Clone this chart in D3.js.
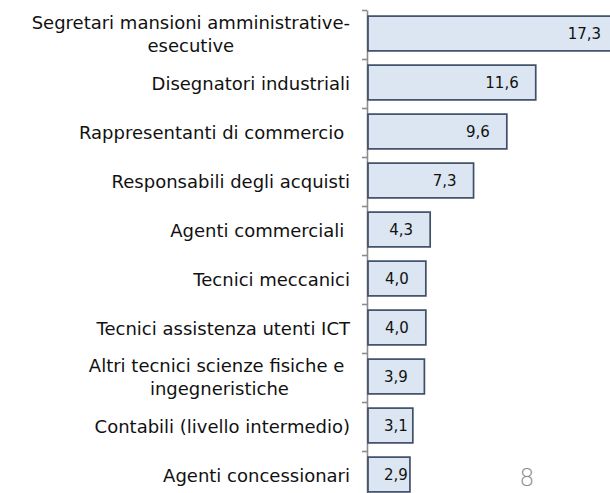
<!DOCTYPE html>
<html>
<head>
<meta charset="utf-8">
<script src="https://cdn.jsdelivr.net/npm/d3@7"></script>
<style>
  html, body { margin: 0; padding: 0; background: #ffffff; }
  svg { display: block; }
  text { font-family: "Century Gothic", "DejaVu Sans", sans-serif; white-space: pre; }
</style>
</head>
<body>
<svg id="chart" width="610" height="493"></svg>
<script>
const categories = [
  "Segretari mansioni amministrative-\nesecutive",
  "Disegnatori industriali",
  "Rappresentanti di commercio ",
  "Responsabili degli acquisti",
  "Agenti commerciali ",
  "Tecnici meccanici",
  "Tecnici assistenza utenti ICT",
  "Altri tecnici scienze fisiche e \ningegneristiche",
  "Contabili (livello intermedio)",
  "Agenti concessionari"
];
const values = [17.3, 11.6, 9.6, 7.3, 4.3, 4.0, 4.0, 3.9, 3.1, 2.9];
const pageNumber = "8";

const fmt = v => v.toFixed(1).replace(".", ",");

const svg = d3.select("#chart");
const x0 = 368, plotTop = 10, plotBottom = 500;

const x = d3.scaleLinear().domain([0, 20]).range([x0, x0 + 289.2]);
const y = d3.scaleBand().domain(categories).range([plotTop, plotBottom])
  .paddingInner(0.29).paddingOuter(0.145);

// axis with ticks at category boundaries
const idx = d3.scaleLinear().domain([0, categories.length]).range([plotTop, plotBottom]);
const axis = svg.append("g")
  .attr("transform", `translate(${x0 - 1},0)`)
  .call(d3.axisLeft(idx).ticks(categories.length).tickSize(5).tickSizeOuter(0).tickFormat(""));
axis.select(".domain").attr("stroke", "#8c8c8c").attr("stroke-width", 1.6);
axis.selectAll(".tick line").attr("stroke", "#8c8c8c").attr("stroke-width", 1.6);

// bars
svg.append("g").selectAll("rect")
  .data(categories)
  .join("rect")
  .attr("x", x(0))
  .attr("y", d => y(d) - 1)
  .attr("width", (d, i) => x(values[i]) - x(0))
  .attr("height", y.bandwidth())
  .attr("fill", "#dce6f2")
  .attr("stroke", "#3f4f68")
  .attr("stroke-width", 1.7);

// value labels
const vl = svg.append("g").selectAll("text")
  .data(categories)
  .join("text")
  .attr("x", (d, i) => x(values[i]) - 17)
  .attr("y", d => y(d) - 1 + y.bandwidth() / 2)
  .attr("dy", "0.35em")
  .attr("text-anchor", "end")
  .attr("font-size", 15)
  .attr("fill", "#111")
  .text((d, i) => fmt(values[i]));
vl.each(function() {
  const w = this.getComputedTextLength();
  const xe = +this.getAttribute("x");
  if (xe - w < x0 + 16) {
    d3.select(this).attr("text-anchor", "start").attr("x", x0 + 16);
  }
});

// category labels
const labelRight = 350;
const lineH = 23;
svg.append("g").selectAll("text")
  .data(categories)
  .join("text")
  .attr("font-size", 18)
  .attr("fill", "#111")
  .each(function(d) {
    const lines = d.split("\n");
    const t = d3.select(this);
    const cy = y(d) + y.bandwidth() / 2;
    if (lines.length === 1) {
      t.attr("text-anchor", "end").attr("x", labelRight).attr("y", cy).attr("dy", "0.35em").text(d);
    } else {
      t.attr("text-anchor", "middle");
      const spans = lines.map((ln, k) => t.append("tspan")
        .attr("y", cy + (k - (lines.length - 1) / 2) * lineH)
        .attr("dy", "0.35em")
        .text(ln));
      const maxW = d3.max(spans, s => s.node().getComputedTextLength());
      spans.forEach(s => s.attr("x", labelRight - maxW / 2));
    }
  });

// page number
svg.append("text")
  .attr("x", 527)
  .attr("y", 486)
  .attr("text-anchor", "middle")
  .attr("font-size", 24)
  .attr("font-weight", 200)
  .attr("fill", "#8c8c8c")
  .text(pageNumber);
</script>
</body>
</html>
